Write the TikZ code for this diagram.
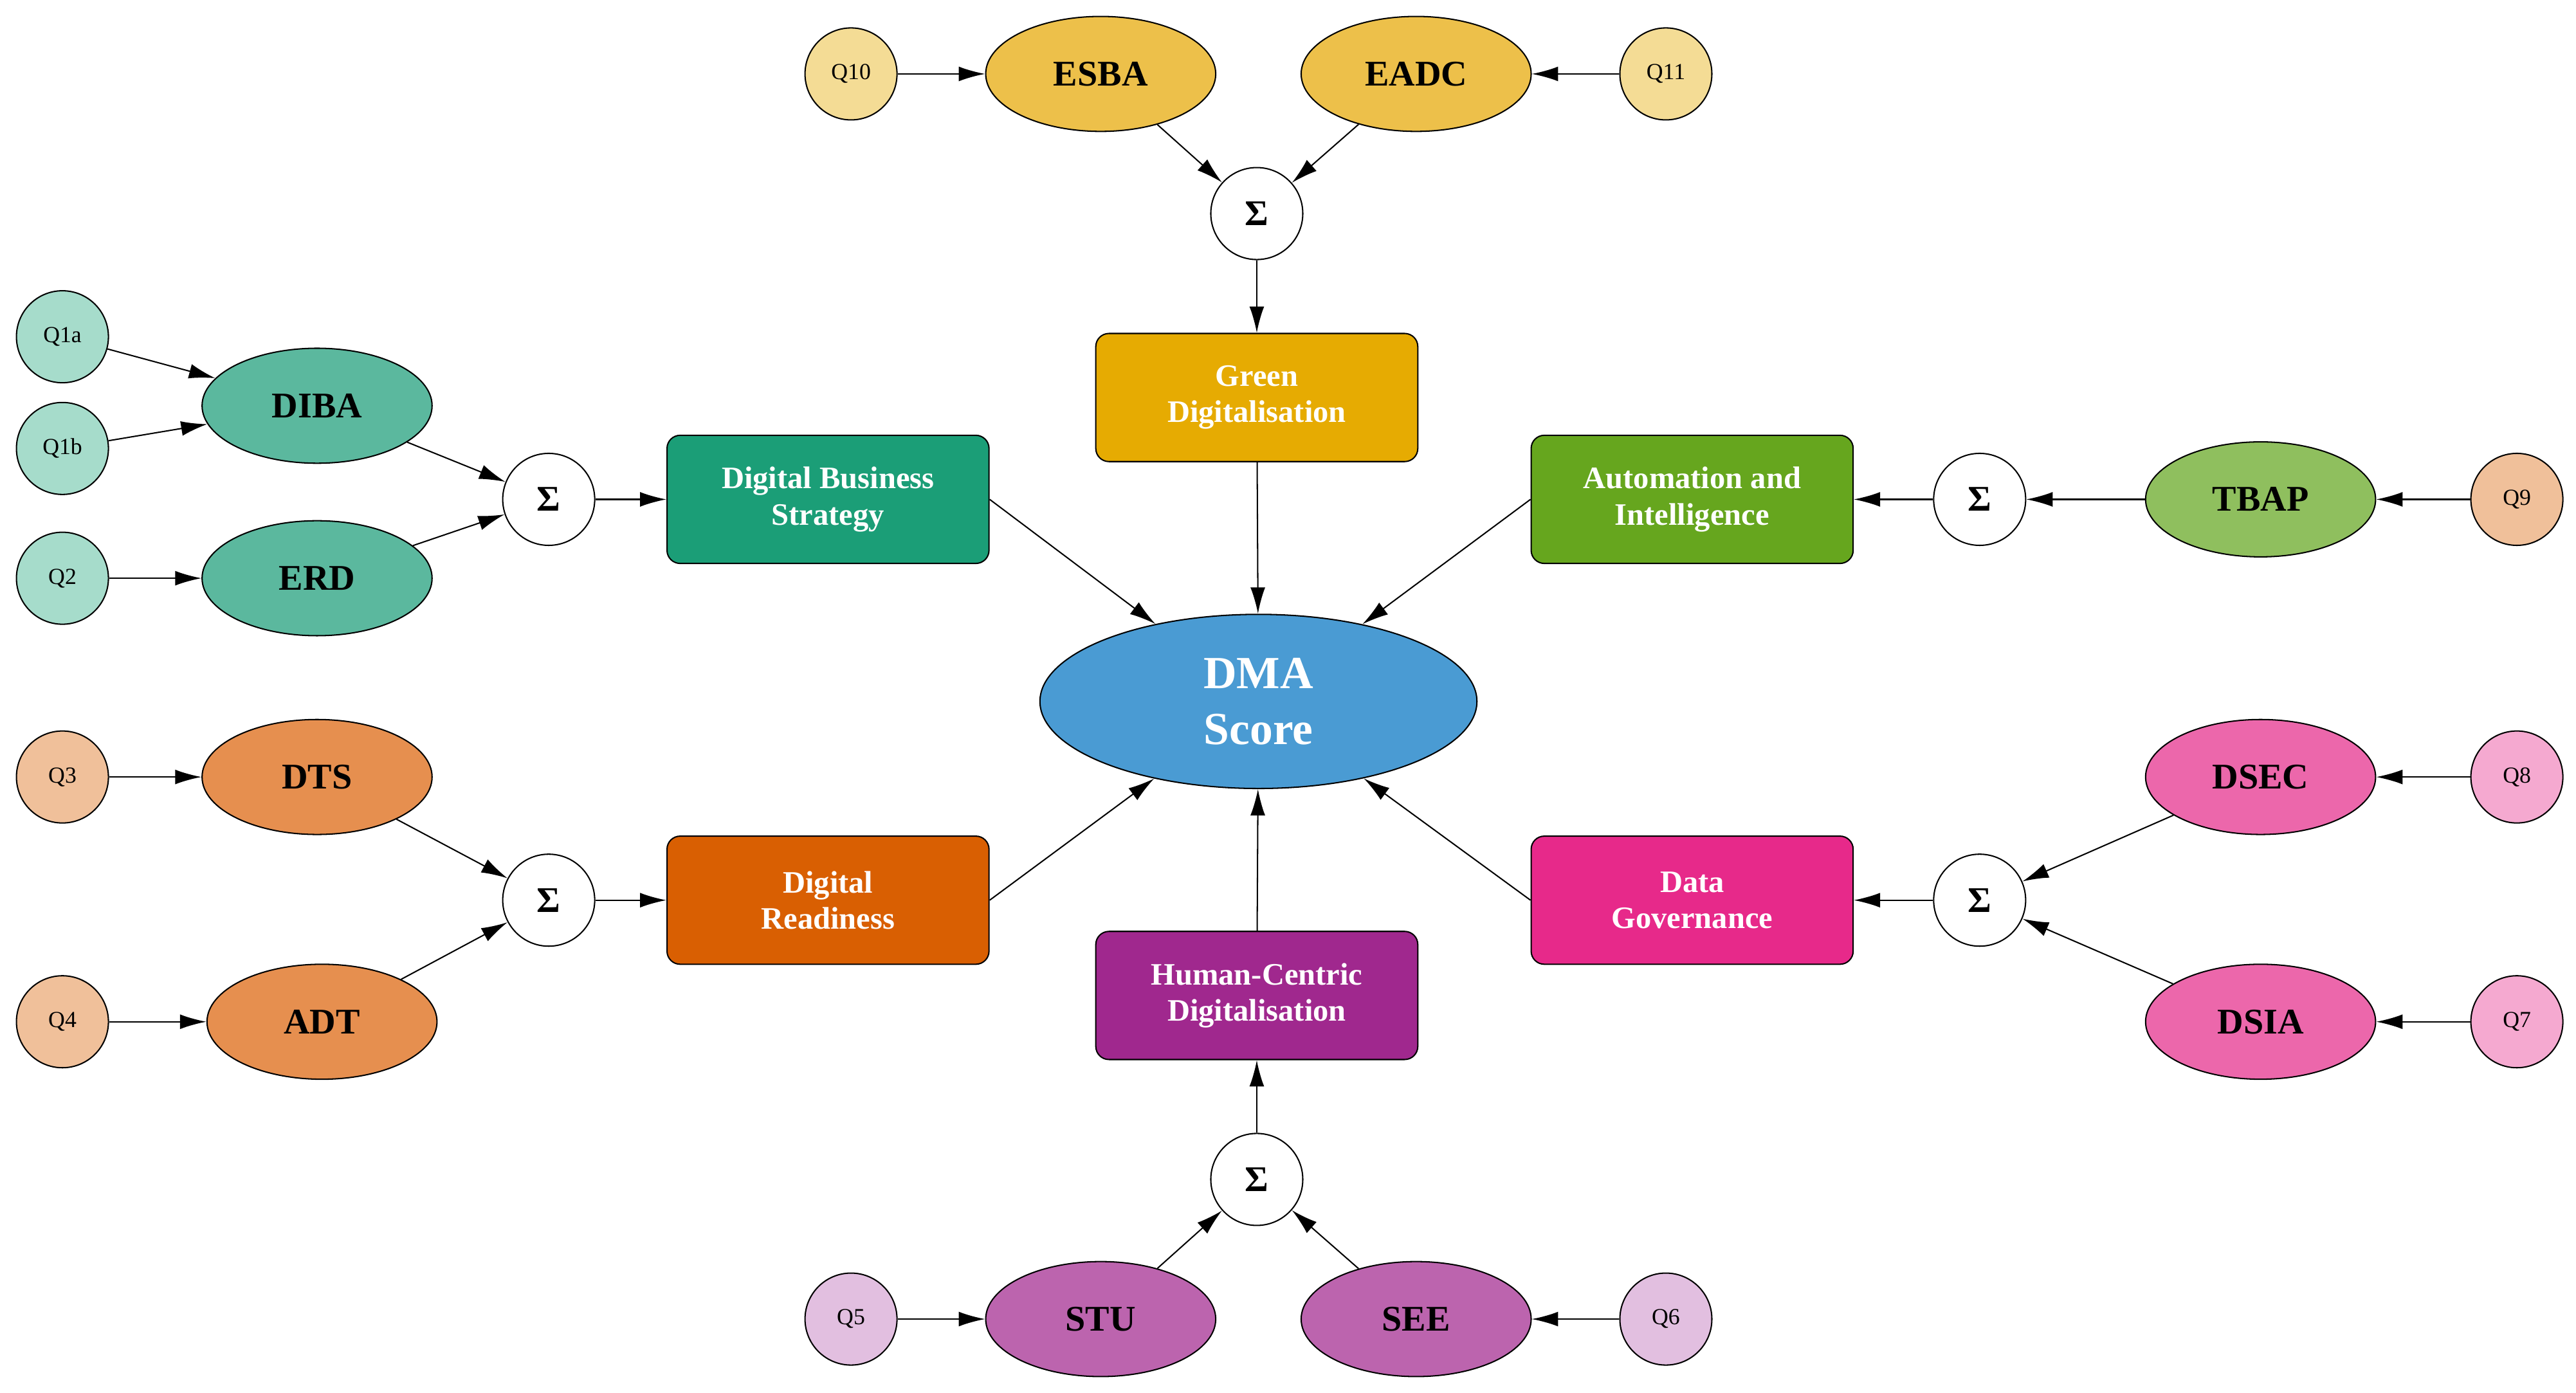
\documentclass[tikz,border=0pt]{standalone}
\usepackage{fontspec}
\setmainfont{Liberation Serif}
\usetikzlibrary{arrows.meta,shapes.geometric}
\begin{document}
\begin{tikzpicture}[x=1pt,y=-1pt,
 q/.style={circle,draw,thick,minimum size=56pt,inner sep=0pt,font=\fontsize{14}{14}\selectfont},
 el/.style={ellipse,draw,thick,minimum width=140pt,minimum height=70pt,inner sep=0pt,font=\fontsize{22}{22}\selectfont\bfseries},
 sg/.style={circle,draw,thick,fill=white,minimum size=56pt,inner sep=0pt,font=\fontsize{22}{22}\selectfont\bfseries},
 bx/.style={rectangle,rounded corners=8pt,draw,thick,minimum width=196pt,minimum height=78pt,align=center,text=white,font=\fontsize{19}{22}\selectfont\bfseries},
 ar/.style={-{Latex[length=16pt,width=9pt]},thick}]
\useasboundingbox (0,0) rectangle (1568,848);
\definecolor{tq}{HTML}{A6DCCB}\definecolor{te}{HTML}{5BB89E}\definecolor{tb}{HTML}{1B9E77}
\definecolor{oq}{HTML}{F0C09A}\definecolor{oe}{HTML}{E68F4F}\definecolor{ob}{HTML}{D95F02}
\definecolor{gb}{HTML}{66A61E}\definecolor{ge}{HTML}{8FBF5E}
\definecolor{pq}{HTML}{F5A9D0}\definecolor{pe}{HTML}{EC67AB}\definecolor{pb}{HTML}{E7298A}
\definecolor{vq}{HTML}{E2BFE0}\definecolor{ve}{HTML}{BC64AE}\definecolor{vb}{HTML}{A0288E}
\definecolor{yq}{HTML}{F4DC95}\definecolor{ye}{HTML}{EDC04A}\definecolor{yb}{HTML}{E6AB02}
\definecolor{dm}{HTML}{4A9BD3}
% center
\node[ellipse,draw,thick,fill=dm,minimum width=266pt,minimum height=106pt,align=center,text=white,font=\fontsize{28}{34}\selectfont\bfseries] (dma) at (766,427) {DMA\\Score};
% top
\node[q,fill=yq] (q10) at (518,45) {Q10};
\node[el,fill=ye] (esba) at (670,45) {ESBA};
\node[el,fill=ye] (eadc) at (862,45) {EADC};
\node[q,fill=yq] (q11) at (1014,45) {Q11};
\node[sg] (s1) at (765,130) {Σ};
\node[bx,fill=yb] (green) at (765,242) {Green\\Digitalisation};
% left top
\node[q,fill=tq] (q1a) at (38,205) {Q1a};
\node[q,fill=tq] (q1b) at (38,273) {Q1b};
\node[q,fill=tq] (q2) at (38,352) {Q2};
\node[el,fill=te] (diba) at (193,247) {DIBA};
\node[el,fill=te] (erd) at (193,352) {ERD};
\node[sg] (s2) at (334,304) {Σ};
\node[bx,fill=tb] (dbs) at (504,304) {Digital Business\\Strategy};
% right top
\node[bx,fill=gb] (auto) at (1030,304) {Automation and\\Intelligence};
\node[sg] (s3) at (1205,304) {Σ};
\node[el,fill=ge] (tbap) at (1376,304) {TBAP};
\node[q,fill=oq] (q9) at (1532,304) {Q9};
% left bottom
\node[q,fill=oq] (q3) at (38,473) {Q3};
\node[el,fill=oe] (dts) at (193,473) {DTS};
\node[q,fill=oq] (q4) at (38,622) {Q4};
\node[el,fill=oe] (adt) at (196,622) {ADT};
\node[sg] (s4) at (334,548) {Σ};
\node[bx,fill=ob] (dr) at (504,548) {Digital\\Readiness};
% right bottom
\node[el,fill=pe] (dsec) at (1376,473) {DSEC};
\node[q,fill=pq] (q8) at (1532,473) {Q8};
\node[el,fill=pe] (dsia) at (1376,622) {DSIA};
\node[q,fill=pq] (q7) at (1532,622) {Q7};
\node[sg] (s5) at (1205,548) {Σ};
\node[bx,fill=pb] (dg) at (1030,548) {Data\\Governance};
% bottom
\node[bx,fill=vb] (hc) at (765,606) {Human-Centric\\Digitalisation};
\node[sg] (s6) at (765,718) {Σ};
\node[q,fill=vq] (q5) at (518,803) {Q5};
\node[el,fill=ve] (stu) at (670,803) {STU};
\node[el,fill=ve] (see) at (862,803) {SEE};
\node[q,fill=vq] (q6) at (1014,803) {Q6};
% edges
\draw[ar] (q10)--(esba); \draw[ar] (q11)--(eadc);
\draw[ar] (esba)--(s1); \draw[ar] (eadc)--(s1); \draw[ar] (s1)--(green); \draw[ar] (green)--(dma);
\draw[ar] (q1a)--(diba); \draw[ar] (q1b)--(diba); \draw[ar] (q2)--(erd);
\draw[ar] (diba)--(s2); \draw[ar] (erd)--(s2); \draw[ar] (s2)--(dbs); \draw[ar] (dbs.east)--(dma);
\draw[ar] (q9)--(tbap); \draw[ar] (tbap)--(s3); \draw[ar] (s3)--(auto); \draw[ar] (auto.west)--(dma);
\draw[ar] (q3)--(dts); \draw[ar] (q4)--(adt); \draw[ar] (dts)--(s4); \draw[ar] (adt)--(s4); \draw[ar] (s4)--(dr); \draw[ar] (dr.east)--(dma);
\draw[ar] (q8)--(dsec); \draw[ar] (q7)--(dsia); \draw[ar] (dsec)--(s5); \draw[ar] (dsia)--(s5); \draw[ar] (s5)--(dg); \draw[ar] (dg.west)--(dma);
\draw[ar] (q5)--(stu); \draw[ar] (q6)--(see); \draw[ar] (stu)--(s6); \draw[ar] (see)--(s6); \draw[ar] (s6)--(hc); \draw[ar] (hc)--(dma);
\end{tikzpicture}
\end{document}
